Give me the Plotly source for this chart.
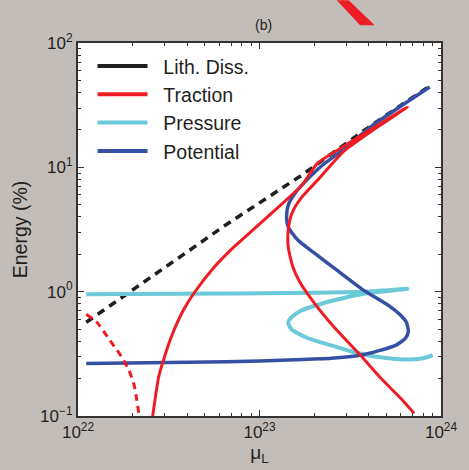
import plotly.graph_objects as go

# ---- data: mu_L (x) and energy fraction in % (y) ----
lith_mu = [1.11e22, 2.61e22, 6.61e22, 1.71e23, 4.23e23, 8.67e23]
lith_E = [0.567, 1.355, 3.49, 8.65, 22.3, 45.1]

trac_mu = [2.58e22, 2.78e22, 2.92e22, 3.26e22, 3.83e22, 4.39e22, 5.62e22, 7.21e22,
           9.57e22, 1.27e23, 1.71e23, 2.09e23, 2.81e23, 4.23e23, 6.53e23,
           4.23e23, 2.92e23, 2.09e23, 1.71e23, 1.51e23, 1.44e23, 1.44e23, 1.53e23,
           1.67e23, 2.09e23, 2.67e23, 3.52e23, 4.61e23, 6.14e23, 7.11e23]
trac_E = [0.100, 0.205, 0.265, 0.430, 0.721, 0.989, 1.57, 2.28,
          3.30, 4.79, 7.19, 10.8, 14.3, 20.7, 30.5,
          19.95, 13.5, 7.89, 5.75, 4.28, 3.12, 2.28, 1.57,
          1.19, 0.748, 0.489, 0.319, 0.205, 0.134, 0.105]

trac_neg_mu = [1.11e22, 1.27e22, 1.50e22, 1.73e22, 1.91e22, 2.04e22, 2.11e22, 2.17e22]
trac_neg_E = [0.658, 0.567, 0.406, 0.302, 0.233, 0.176, 0.134, 0.101]

pres_mu = [1.11e22, 6.61e22, 3.74e23, 6.53e23, 3.74e23, 2.58e23, 2.19e23, 1.71e23,
           1.50e23, 1.44e23, 1.50e23, 1.85e23, 2.48e23, 3.30e23, 4.23e23,
           5.62e23, 7.21e23, 8.17e23, 9.00e23]
pres_E = [0.953, 0.966, 0.998, 1.054, 0.962, 0.853, 0.800, 0.708,
          0.622, 0.567, 0.498, 0.422, 0.370, 0.327, 0.302,
          0.288, 0.286, 0.294, 0.308]

pot_mu = [1.11e22, 2.45e22, 6.61e22, 1.57e23, 2.48e23, 3.60e23, 4.61e23, 5.62e23,
          6.37e23, 6.61e23, 6.44e23, 5.92e23, 5.22e23, 3.74e23, 2.67e23, 2.01e23,
          1.63e23, 1.44e23, 1.41e23, 1.44e23, 1.57e23, 1.82e23, 2.22e23, 2.92e23,
          4.23e23, 6.37e23, 8.67e23]
pot_E = [0.265, 0.268, 0.273, 0.283, 0.291, 0.308, 0.337, 0.370,
         0.422, 0.480, 0.567, 0.658, 0.762, 1.03, 1.49, 2.04,
         2.59, 3.30, 3.97, 4.97, 6.19, 7.89, 10.4, 14.0,
         21.9, 32.9, 44.3]

series_names = ["Lith. Diss.", "Traction", "Pressure", "Potential"]
series_colors = ["#1e1e1e", "#ee1d25", "#6ccad8", "#3550a2"]

x_ticks = [1e22, 1e23, 1e24]
x_ticktext = ["10<sup>22</sup>", "10<sup>23</sup>", "10<sup>24</sup>"]
y_ticks = [0.1, 1, 10, 100]
y_ticktext = ["10<sup>\u22121</sup>", "10<sup>0</sup>", "10<sup>1</sup>", "10<sup>2</sup>"]
x_minor = [m * 10.0 ** e for e in (22, 23) for m in range(2, 10)]
y_minor = [m * 10.0 ** e for e in (-1, 0, 1) for m in range(2, 10)]

FONT = "Liberation Sans, Arial, sans-serif"
TEXT = "#231f20"
BG = "#c3bdba"
SMOOTH = 0.6

fig = go.Figure()

fig.add_trace(go.Scatter(x=lith_mu, y=lith_E, mode="lines", showlegend=False,
                         line=dict(color=series_colors[0], width=3.5, dash="8px,6px")))
fig.add_trace(go.Scatter(x=pres_mu, y=pres_E, mode="lines", showlegend=False,
                         line=dict(color=series_colors[2], width=4, shape="spline",
                                   smoothing=SMOOTH)))
fig.add_trace(go.Scatter(x=pot_mu, y=pot_E, mode="lines", showlegend=False,
                         line=dict(color=series_colors[3], width=3.5, shape="spline",
                                   smoothing=SMOOTH)))
fig.add_trace(go.Scatter(x=trac_mu, y=trac_E, mode="lines", showlegend=False,
                         line=dict(color=series_colors[1], width=3, shape="spline",
                                   smoothing=SMOOTH)))
fig.add_trace(go.Scatter(x=trac_neg_mu, y=trac_neg_E, mode="lines", showlegend=False,
                         line=dict(color=series_colors[1], width=3, dash="7px,5px",
                                   shape="spline", smoothing=SMOOTH)))

# solid swatches for the legend
for name, color in zip(series_names, series_colors):
    fig.add_trace(go.Scatter(x=[None], y=[None], mode="lines",
                             name="\u00a0\u00a0" + name,
                             line=dict(color=color, width=4)))

# red bar from the neighbouring panel
fig.add_shape(type="path", xref="paper", yref="paper",
              path="M 0.7128 1.1145 L 0.7456 1.1145 L 0.8174 1.0475 L 0.7772 1.0475 Z",
              fillcolor="#ee1d25", line=dict(width=0), layer="above")

axis_common = dict(
    type="log", showgrid=False, zeroline=False,
    showline=True, linecolor="#333333", linewidth=2, mirror="allticks",
    ticks="inside", ticklen=6, tickwidth=1, tickcolor="#333333",
    tickfont=dict(family=FONT, size=17, color=TEXT),
)

fig.update_layout(
    width=469, height=470,
    margin=dict(l=78, r=19, t=43, b=54),
    paper_bgcolor=BG, plot_bgcolor="white",
    font=dict(family=FONT, color=TEXT),
    title=dict(text="(b)", x=0.562, xanchor="center", y=0.947, yanchor="middle",
               yref="container", font=dict(family=FONT, size=14, color=TEXT)),
    xaxis=dict(axis_common, range=[22, 24], tickmode="array", tickvals=x_ticks,
               ticktext=x_ticktext,
               minor=dict(tickmode="array", tickvals=x_minor, ticks="inside",
                          ticklen=3, tickcolor="#333333"),
               title=dict(text="\u03bc<sub>L</sub>", standoff=2,
                          font=dict(family=FONT, size=19, color=TEXT))),
    yaxis=dict(axis_common, range=[-1, 2], tickmode="array", tickvals=y_ticks,
               ticktext=y_ticktext,
               minor=dict(tickmode="array", tickvals=y_minor, ticks="inside",
                          ticklen=3, tickcolor="#333333"),
               title=dict(text="Energy (%)", standoff=7,
                          font=dict(family=FONT, size=19.5, color=TEXT))),
    legend=dict(x=0.04, y=0.99, xanchor="left", yanchor="top",
                bgcolor="rgba(0,0,0,0)", borderwidth=0, itemwidth=50,
                tracegroupgap=0,
                font=dict(family=FONT, size=19.5, color=TEXT)),
)

fig.write_html("out.html")
